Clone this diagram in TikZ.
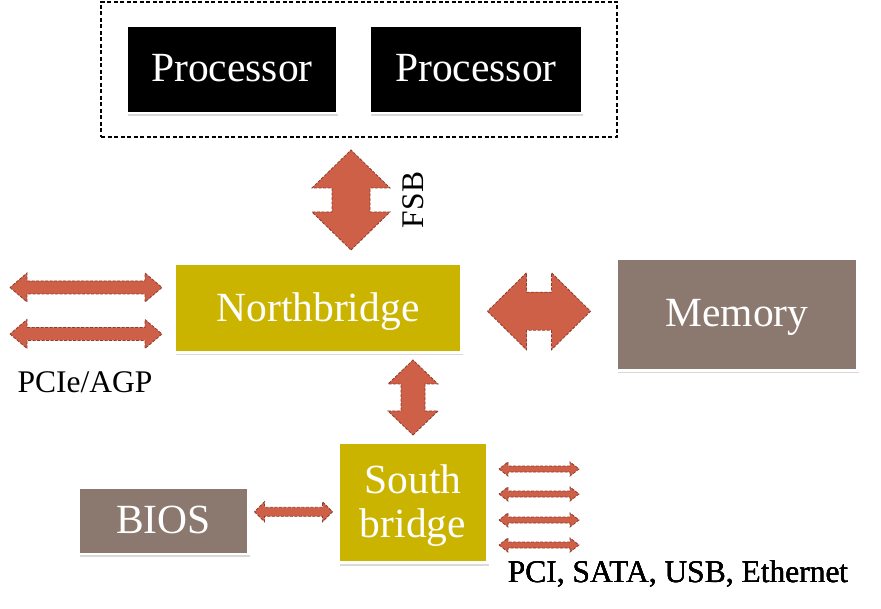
\documentclass[tikz,border=0pt]{standalone}
\usepackage{fontspec}
\setmainfont{Liberation Serif}
\usepackage{tikz}
\usetikzlibrary{calc, shadows, positioning}

\definecolor{chipolive}{HTML}{CBB400}
\definecolor{chipgrey}{HTML}{8B7970}
\definecolor{busred}{HTML}{CF6048}
\definecolor{busedge}{HTML}{8E3B2E}

\tikzset{
  chip/.style={draw=white, line width=2.5pt, text=white, inner sep=0pt, align=center,
    font=\fontsize{41.5}{44}\selectfont, text depth=0.22em,
    drop shadow={shadow xshift=1pt, shadow yshift=-3pt, opacity=0.3}},
  bus/.style={fill=busred, draw=busedge, line width=0.8pt, dash pattern=on 3pt off 1.5pt},
  lbl/.style={font=\fontsize{31.5}{34}\selectfont, inner sep=0pt}
}

% double-headed bus arrow: centre, angle, half length, half head width, half shaft width, head length
\newcommand{\busarrow}[6]{%
  \begin{scope}[shift={#1}, rotate=#2]
    \draw[bus] (-#3,0) -- (-#3+#6,#4) -- (-#3+#6,#5) -- (#3-#6,#5) -- (#3-#6,#4) -- (#3,0)
      -- (#3-#6,-#4) -- (#3-#6,-#5) -- (-#3+#6,-#5) -- (-#3+#6,-#4) -- cycle;
  \end{scope}}

\begin{document}
\begin{tikzpicture}[x=1pt, y=-1pt]
  \useasboundingbox (0,0) rectangle (881,609);

  % Processors
  \node[draw, dashed, line width=1.2pt, dash pattern=on 4pt off 2.5pt,
        minimum width=516pt, minimum height=135pt] (cpus) at (359,69.5) {};
  \node[chip, fill=black, minimum width=210pt, minimum height=87pt] (cpu1) at (232,69.5) {Processor};
  \node[chip, fill=black, minimum width=212pt, minimum height=87pt] (cpu2) at (476,69.5) {Processor};

  % Chipset and memory
  \node[chip, fill=chipolive, minimum width=287pt, minimum height=89pt] (nb) at (318,308) {Northbridge};
  \node[chip, fill=chipgrey, minimum width=241pt, minimum height=112pt] (mem) at (737,314.5) {Memory};
  \node[chip, fill=chipolive, minimum width=149pt, minimum height=120pt] (sb) at (413,502.5) {South\\bridge};
  \node[chip, fill=chipgrey, minimum width=170pt, minimum height=66pt] (bios) at (163.5,521) {BIOS};

  % FSB
  \coordinate (fsb) at (351,200);
  \busarrow{(fsb)}{90}{50}{39}{19}{38}
  \node[lbl, rotate=90] (fsblbl) at ([xshift=62pt]fsb) {FSB};

  % Northbridge links
  \busarrow{($(nb.east)!0.5!(mem.west)$)}{0}{51.5}{38.5}{19}{39}
  \busarrow{($(nb.south -| sb)!0.5!(sb.north)$)}{90}{37.5}{25}{12}{24}
  \busarrow{(86,287.5)}{0}{76}{14.5}{6.5}{17}
  \busarrow{(86,334)}{0}{76}{14.5}{6.5}{17}
  \node[lbl] (pcie) at (85,382) {PCIe/AGP};

  % Southbridge links
  \busarrow{($(bios.east)!0.5!(sb.west)$)}{0}{39}{10}{4.5}{10}
  \foreach \y in {469,494,520,545}
    \busarrow{(539,\y)}{0}{40}{7}{3}{9}
  \node[lbl] (io) at (678,574) {PCI, SATA, USB, Ethernet};
\end{tikzpicture}
\end{document}
